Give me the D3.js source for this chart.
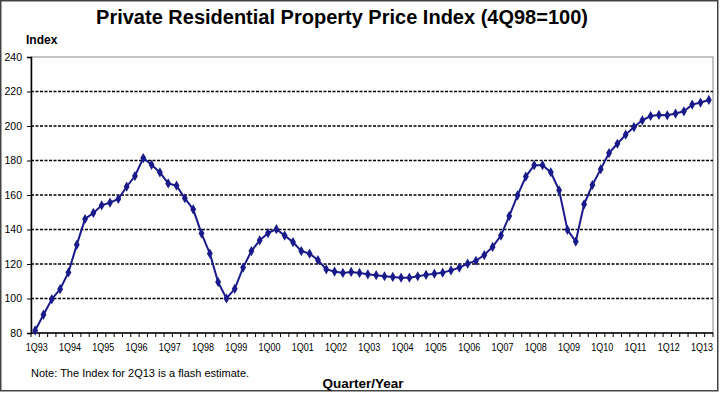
<!DOCTYPE html>
<html>
<head>
<meta charset="utf-8">
<script src="https://cdn.jsdelivr.net/npm/d3@7"></script>
<style>
  body { margin: 0; background: #fff; }
  svg { display: block; font-family: "Liberation Sans", Arial, sans-serif; }
</style>
</head>
<body>
<svg id="chart" width="720" height="393"></svg>
<script>
// Quarterly index values, 1Q93 .. 2Q13 (4Q98 = 100)
var years = d3.range(1993, 2014)
var quarters = []
years.forEach(function(y){
  for (var q = 1; q <= 4; q++) {
    if (y == 2013 && q > 2) break
    quarters.push(q + "Q" + String(y).slice(2))
  }
})

var index_values = [
  81.5, 90.6, 99.6, 105.4, 115.1, 131.1, 146.1, 149.6, 154.0, 155.6, 157.7, 164.8,
  171.0, 181.4, 177.5, 173.1, 166.7, 165.4, 158.1, 151.7, 137.8, 126.1, 109.5, 100.0,
  105.6, 117.9, 127.5, 133.7, 137.9, 140.2, 136.5, 132.7, 127.5, 126.0, 122.3, 116.9,
  115.6, 114.8, 115.4, 114.8, 114.0, 113.5, 112.9, 112.5, 112.1, 112.1, 112.9, 113.7,
  114.4, 115.0, 116.3, 117.9, 120.2, 121.9, 125.2, 129.9, 136.5, 147.8, 159.8, 170.7,
  177.3, 177.3, 173.2, 162.7, 139.8, 133.0, 154.6, 165.8, 175.0, 184.3, 189.7, 195.0,
  199.4, 203.3, 205.8, 206.4, 206.2, 207.2, 208.5, 212.4, 213.6, 215.1
]

var y_ticks = [80, 100, 120, 140, 160, 180, 200, 220, 240]
var grid_values = [100, 120, 140, 160, 180, 200, 220]
var x_labels = quarters.filter(function(d){ return d.charAt(0) == "1" })

var data = quarters.map(function(q, i){ return {q: q, v: index_values[i]} })

var svg = d3.select("#chart")
var pLeft = 31, pRight = 713, pTop = 57, pBottom = 333

// outer frame
svg.append("rect")
  .attr("x", 0.75).attr("y", 0.75).attr("width", 717).attr("height", 390)
  .attr("fill", "#fff").attr("stroke", "#444").attr("stroke-width", 1.5)

var x = d3.scalePoint().domain(quarters).range([pLeft, pRight]).padding(0.5)
var y = d3.scaleLinear().domain([80, 240]).range([pBottom, pTop])

// plot area border
svg.append("rect")
  .attr("x", pLeft).attr("y", pTop).attr("width", pRight - pLeft).attr("height", pBottom - pTop)
  .attr("fill", "none").attr("stroke", "#888").attr("stroke-width", 1)

// dashed grid lines
svg.append("g").selectAll("line")
  .data(grid_values)
  .enter().append("line")
  .attr("x1", pLeft).attr("x2", pRight)
  .attr("y1", function(d){ return y(d) }).attr("y2", function(d){ return y(d) })
  .attr("stroke", "#000").attr("stroke-width", 1.3)
  .attr("stroke-dasharray", "3,1.5")

// y axis
var yAxis = d3.axisLeft(y).tickValues(y_ticks).tickSize(4).tickPadding(5)
var gy = svg.append("g").attr("transform", "translate(" + pLeft + ",0)").call(yAxis)
gy.select(".domain").attr("stroke", "#000").attr("stroke-width", 1.5)
gy.selectAll("text").attr("font-size", 10.5).attr("fill", "#000")
  .attr("font-family", "Liberation Sans, Arial, sans-serif")

// x axis: tick marks on category boundaries, labels every year
var step = x.step()
var boundaries = d3.range(quarters.length + 1).map(function(i){ return pLeft + i * step })
svg.append("line")
  .attr("x1", pLeft).attr("x2", pRight).attr("y1", pBottom).attr("y2", pBottom)
  .attr("stroke", "#000").attr("stroke-width", 1.5)
svg.append("g").selectAll("line")
  .data(boundaries)
  .enter().append("line")
  .attr("x1", function(d){ return d }).attr("x2", function(d){ return d })
  .attr("y1", pBottom).attr("y2", pBottom + 4)
  .attr("stroke", "#000").attr("stroke-width", 1)

svg.append("g").selectAll("text")
  .data(x_labels)
  .enter().append("text")
  .attr("x", function(d){ return x(d) + 1.5 })
  .attr("y", pBottom + 18)
  .attr("text-anchor", "middle")
  .attr("font-size", 10)
  .attr("textLength", 22).attr("lengthAdjust", "spacingAndGlyphs")
  .text(function(d){ return d })

// series
var line = d3.line()
  .x(function(d){ return x(d.q) })
  .y(function(d){ return y(d.v) })

svg.append("path")
  .datum(data)
  .attr("d", line)
  .attr("fill", "none")
  .attr("stroke", "#1a1a8a")
  .attr("stroke-width", 2)

svg.append("g").selectAll("path")
  .data(data)
  .enter().append("path")
  .attr("transform", function(d){ return "translate(" + x(d.q) + "," + y(d.v) + ")" })
  .attr("d", d3.symbol(d3.symbolDiamond, 30))
  .attr("fill", "#1a1a8a")

// texts
svg.append("text")
  .attr("x", 342).attr("y", 24)
  .attr("text-anchor", "middle")
  .attr("font-size", 20).attr("font-weight", "bold")
  .text("Private Residential Property Price Index (4Q98=100)")

svg.append("text")
  .attr("x", 26).attr("y", 44)
  .attr("font-size", 12).attr("font-weight", "bold")
  .text("Index")

svg.append("text")
  .attr("x", 363).attr("y", 388)
  .attr("text-anchor", "middle")
  .attr("font-size", 13.5).attr("font-weight", "bold")
  .text("Quarter/Year")

svg.append("text")
  .attr("x", 31).attr("y", 377)
  .attr("font-size", 11)
  .text("Note: The Index for 2Q13 is a flash estimate.")
</script>
</body>
</html>
